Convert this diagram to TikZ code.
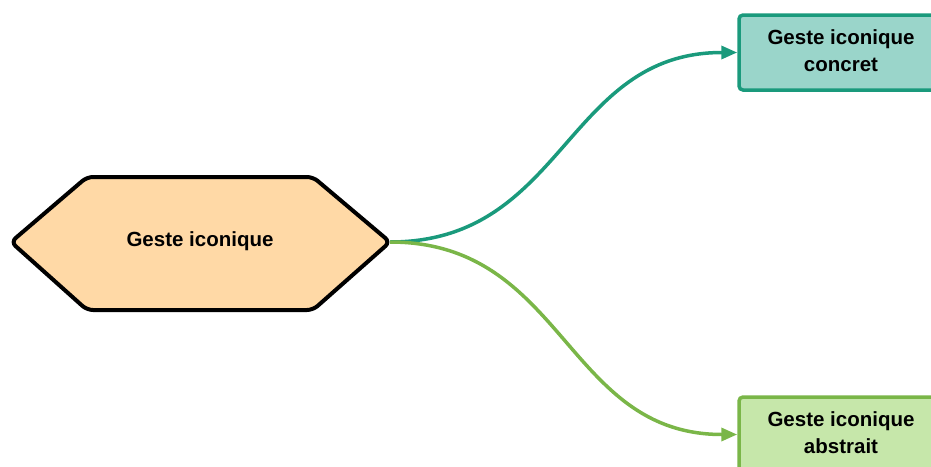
\documentclass[tikz,border=0pt]{standalone}
\usepackage{fontspec}
\setmainfont{Liberation Sans}
\usetikzlibrary{arrows.meta}
\definecolor{hexfill}{HTML}{FFD9A6}
\definecolor{tealline}{HTML}{1A9A7C}
\definecolor{tealfill}{HTML}{9AD5CA}
\definecolor{greenline}{HTML}{7AB648}
\definecolor{greenfill}{HTML}{C6E7AA}
\tikzset{
  label text/.style={font=\fontsize{20.5}{27}\selectfont\bfseries, text=black, align=center},
  leafbox/.style={label text, rectangle, rounded corners=4pt, line width=3.5pt,
    minimum width=204pt, minimum height=75pt, inner sep=0pt},
  link/.style={line width=3.5pt, -{Triangle[length=16pt,width=13pt]}},
}
\begin{document}
\begin{tikzpicture}[x=1pt,y=-1pt]
  \useasboundingbox (0,0) rectangle (931,466);
  \clip (0,0) rectangle (931,466);
  % central hexagon
  \draw[fill=hexfill, line width=4pt, rounded corners=6pt, line join=round]
    (11,242) -- (87,177) -- (313,177) -- (390,242) -- (313,310) -- (87,310) -- cycle;
  \node[label text] (hex) at (200,241) {Geste iconique};
  \coordinate (hexR) at (390,242);
  % leaves
  \node[leafbox, draw=tealline, fill=tealfill] (concret) at (841,52.5) {Geste iconique\\concret\rule[-4pt]{0pt}{0pt}};
  \node[leafbox, draw=greenline, fill=greenfill] (abstrait) at (841,434.5) {Geste iconique\\abstrait\rule[-4pt]{0pt}{0pt}};
  % connectors
  \draw[link, draw=tealline] (hexR) .. controls (565,242) and (565,52.5) .. (concret.west);
  \draw[link, draw=greenline] (hexR) .. controls (565,242) and (565,434.5) .. (abstrait.west);
\end{tikzpicture}
\end{document}
